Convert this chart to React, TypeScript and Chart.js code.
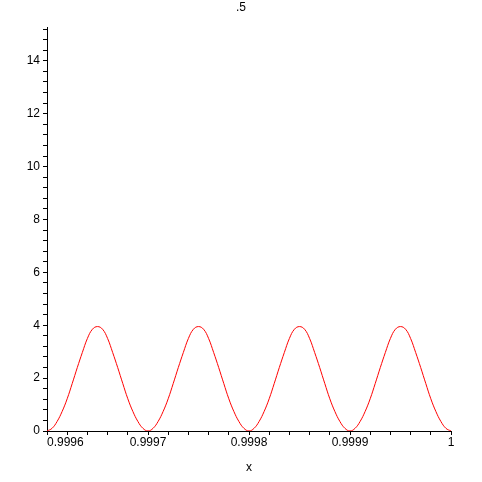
import React, { useEffect, useRef } from "react";
import { Chart, registerables } from "chart.js";

Chart.register(...registerables);

const titleText = ".5";
const xAxisTitle = "x";

const xValues = [
  0.9996, 0.999605, 0.99961, 0.999615, 0.99962, 0.999625, 0.99963, 0.999635, 0.99964, 0.999645,
  0.99965, 0.999655, 0.99966, 0.999665, 0.99967, 0.999675, 0.99968, 0.999685, 0.99969, 0.999695,
  0.9997, 0.999705, 0.99971, 0.999715, 0.99972, 0.999725, 0.99973, 0.999735, 0.99974, 0.999745,
  0.99975, 0.999755, 0.99976, 0.999765, 0.99977, 0.999775, 0.99978, 0.999785, 0.99979, 0.999795,
  0.9998, 0.999805, 0.99981, 0.999815, 0.99982, 0.999825, 0.99983, 0.999835, 0.99984, 0.999845,
  0.99985, 0.999855, 0.99986, 0.999865, 0.99987, 0.999875, 0.99988, 0.999885, 0.99989, 0.999895,
  0.9999, 0.999905, 0.99991, 0.999915, 0.99992, 0.999925, 0.99993, 0.999935, 0.99994, 0.999945,
  0.99995, 0.999955, 0.99996, 0.999965, 0.99997, 0.999975, 0.99998, 0.999985, 0.99999, 0.999995,
  1.0,
];

const yValues = [
  0, 0.1, 0.36, 0.74, 1.22, 1.8, 2.4, 2.97, 3.5, 3.85,
  3.95, 3.85, 3.5, 2.97, 2.4, 1.8, 1.22, 0.74, 0.36, 0.1,
  0, 0.1, 0.36, 0.74, 1.22, 1.8, 2.4, 2.97, 3.5, 3.85,
  3.95, 3.85, 3.5, 2.97, 2.4, 1.8, 1.22, 0.74, 0.36, 0.1,
  0, 0.1, 0.36, 0.74, 1.22, 1.8, 2.4, 2.97, 3.5, 3.85,
  3.95, 3.85, 3.5, 2.97, 2.4, 1.8, 1.22, 0.74, 0.36, 0.1,
  0, 0.1, 0.36, 0.74, 1.22, 1.8, 2.4, 2.97, 3.5, 3.85,
  3.95, 3.85, 3.5, 2.97, 2.4, 1.8, 1.22, 0.74, 0.36, 0.1,
  0,
];

const xTickValues = [0.9996, 0.9997, 0.9998, 0.9999, 1.0];
const xTickLabels = ["0.9996", "0.9997", "0.9998", "0.9999", "1"];
const xMinorStep = 0.00002;

const yTickValues = [0, 2, 4, 6, 8, 10, 12, 14];
const yMinorStep = 0.4;

const xMin = 0.9996;
const xMax = 1.0;
const yMin = 0;
const yMax = 15.28;

const FONT = "'Liberation Sans', Arial, Helvetica, sans-serif";

export default function App() {
  const canvasRef = useRef<HTMLCanvasElement | null>(null);

  useEffect(() => {
    const canvas = canvasRef.current;
    if (!canvas) return;

    const textPlugin = {
      id: "mapleText",
      afterDraw(chart: any) {
        const ctx = chart.ctx;
        const xs = chart.scales.x;
        const area = chart.chartArea;
        ctx.save();
        ctx.fillStyle = "#000";
        ctx.font = `12px ${FONT}`;
        ctx.textBaseline = "alphabetic";
        xTickValues.forEach((v, i) => {
          const px = xs.getPixelForValue(v);
          ctx.textAlign = i === 0 ? "left" : "center";
          ctx.fillText(xTickLabels[i], px, 446);
        });
        ctx.textAlign = "center";
        ctx.fillText(titleText, 241, 11);
        ctx.fillText(xAxisTitle, (area.left + area.right) / 2, 471);
        ctx.restore();
      },
    };

    const chart = new Chart(canvas, {
      type: "line",
      data: {
        datasets: [
          {
            data: xValues.map((x, i) => ({ x, y: yValues[i] })),
            borderColor: "#ff0000",
            borderWidth: 1,
            pointRadius: 0,
            fill: false,
            tension: 0.4,
          },
        ],
      },
      options: {
        animation: false,
        responsive: false,
        devicePixelRatio: 1,
        layout: { padding: { left: 0, right: 31, top: 27, bottom: 0 } },
        plugins: {
          legend: { display: false },
          title: { display: false },
          tooltip: { enabled: false },
        },
        scales: {
          x: {
            type: "linear",
            min: xMin,
            max: xMax,
            afterBuildTicks: (scale: any) => {
              const t = [];
              const n = Math.round((xMax - xMin) / xMinorStep);
              for (let i = 0; i <= n; i++) t.push({ value: xMin + i * xMinorStep });
              scale.ticks = t;
            },
            afterFit: (scale: any) => {
              scale.height = 51;
            },
            ticks: { display: false, autoSkip: false },
            grid: {
              display: true,
              drawOnChartArea: false,
              drawTicks: true,
              tickLength: 4,
              color: "#000",
              lineWidth: 1,
            },
            border: { display: true, color: "#000", width: 1 },
          },
          y: {
            type: "linear",
            min: yMin,
            max: yMax,
            afterBuildTicks: (scale: any) => {
              const t = [];
              const n = Math.floor((yMax - yMin) / yMinorStep + 1e-9);
              for (let i = 0; i <= n; i++) t.push({ value: yMin + i * yMinorStep });
              scale.ticks = t;
            },
            afterFit: (scale: any) => {
              scale.width = 47;
            },
            ticks: {
              autoSkip: false,
              padding: 3,
              color: "#000",
              font: { family: FONT, size: 12 },
              callback: (value: any) => {
                const v = Number(value);
                const hit = yTickValues.find((m) => Math.abs(m - v) < 1e-6);
                return hit === undefined ? "" : String(hit);
              },
            },
            grid: {
              display: true,
              drawOnChartArea: false,
              drawTicks: true,
              tickLength: 4,
              color: "#000",
              lineWidth: 1,
            },
            border: { display: true, color: "#000", width: 1 },
          },
        },
      },
      plugins: [textPlugin],
    } as any);

    return () => {
      chart.destroy();
    };
  }, []);

  return (
    <div style={{ position: "absolute", left: 0, top: 0, width: 482, height: 482, background: "#fff" }}>
      <canvas ref={canvasRef} width={482} height={482} style={{ display: "block", width: 482, height: 482 }} />
    </div>
  );
}
